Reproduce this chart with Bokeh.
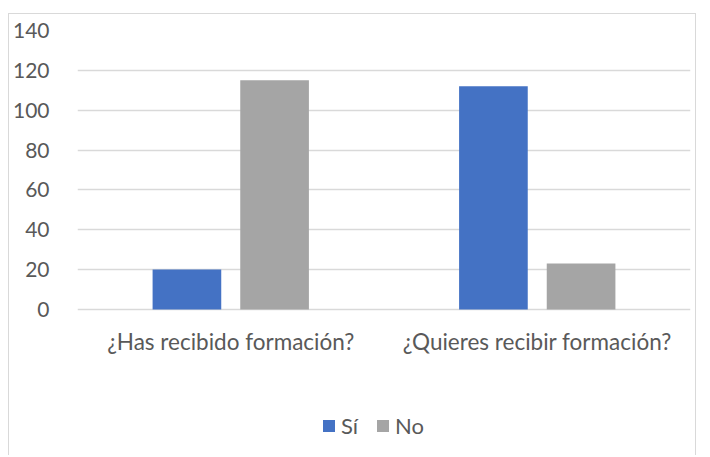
from bokeh.plotting import figure
from bokeh.models import FactorRange, Range1d, Legend, LegendItem, ColumnDataSource
from bokeh.transform import dodge
from bokeh.core.properties import value
from bokeh.embed import file_html
from bokeh.resources import INLINE

categories = ["¿Has recibido formación?", "¿Quieres recibir formación?"]
si_values = [20, 112]
no_values = [115, 23]
y_ticks = [0, 20, 40, 60, 80, 100, 120, 140]

FONT = "Lato"
TXT = "#595959"

src = ColumnDataSource(dict(cat=categories, si=si_values, no=no_values, base=[0] * len(categories)))

# frame extends below the zero line so the legend can sit inside it
p = figure(x_range=FactorRange(*categories), y_range=Range1d(-73.8, 140),
           width=688, height=442, output_backend="svg", toolbar_location=None,
           min_border_left=66, min_border_right=7, min_border_top=16, min_border_bottom=0)
p.styles = {"border-top": "1px solid #d9d9d9", "border-left": "1px solid #d9d9d9",
            "border-right": "1px solid #d9d9d9", "margin-top": "13px", "margin-left": "8px"}
p.outline_line_color = None

r1 = p.vbar(x=dodge("cat", -0.143, range=p.x_range), top="si", width=0.224, source=src,
            fill_color="#4472C4", line_color=None)
r2 = p.vbar(x=dodge("cat", 0.143, range=p.x_range), top="no", width=0.224, source=src,
            fill_color="#A5A5A5", line_color=None)

# category labels under the zero line
p.text(x="cat", y="base", text="cat", source=src, text_align="center", text_baseline="middle",
       y_offset=32, text_font=value(FONT), text_font_size="22.5px", text_color=TXT)

p.xaxis.visible = False

p.yaxis.ticker = y_ticks
p.yaxis.axis_line_color = None
p.yaxis.major_tick_line_color = None
p.yaxis.minor_tick_line_color = None
p.yaxis.major_label_text_font = FONT
p.yaxis.major_label_text_font_size = "21px"
p.yaxis.major_label_text_color = TXT
p.yaxis.major_label_standoff = 22

p.xgrid.grid_line_color = None
p.ygrid.ticker = y_ticks
p.ygrid.grid_line_color = "#d9d9d9"
p.ygrid.grid_line_width = 1.5

legend = Legend(items=[LegendItem(label="Sí", renderers=[r1]), LegendItem(label="No", renderers=[r2])],
                orientation="horizontal", location=(244, 17),
                label_text_font=FONT, label_text_font_size="22px", label_text_color=TXT,
                glyph_width=15, glyph_height=15, spacing=14, label_standoff=5,
                background_fill_alpha=0, border_line_color=None, padding=0, margin=0)
p.add_layout(legend, "center")

open("out.html", "w").write(file_html(p, INLINE))
